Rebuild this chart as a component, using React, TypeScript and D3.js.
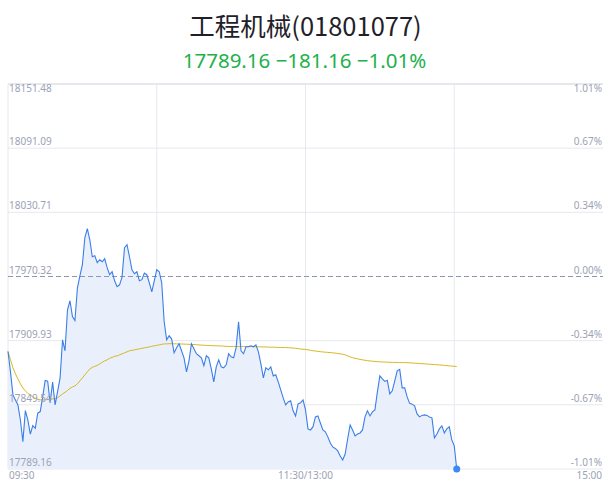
import React from "react";
import * as d3 from "d3";

const titleText = "工程机械(01801077)";
const quoteText = "17789.16 −181.16 −1.01%";

// one value per minute from 09:30
const prices = [
  17899.7, 17880.6, 17858.9, 17854.2, 17849.5, 17835.3, 17814.9, 17844.1, 17835.3, 17821.9,
  17830.0, 17827.5, 17841.7, 17843.2, 17857.3, 17872.4, 17871.8, 17851.6, 17870.9, 17849.5,
  17862.0, 17874.6, 17910.7, 17900.4, 17939.0, 17947.5, 17932.7, 17928.9, 17959.7, 17971.0,
  17981.4, 18006.8, 18015.3, 18004.9, 17988.9, 17989.8, 17983.3, 17986.1, 17984.2, 17987.0,
  17978.6, 17972.0, 17974.8, 17966.3, 17960.7, 17962.5, 17969.8, 17997.4, 18000.2, 17988.9,
  17976.7, 17972.9, 17974.8, 17966.3, 17967.3, 17973.6, 17972.0, 17964.4, 17955.9, 17966.3,
  17976.7, 17974.8, 17964.4, 17927.7, 17910.7, 17914.5, 17911.7, 17898.5, 17903.2, 17907.0,
  17900.4, 17893.8, 17880.6, 17891.0, 17907.0, 17902.3, 17897.6, 17895.7, 17893.8, 17886.3,
  17895.7, 17893.8, 17883.4, 17871.2, 17885.3, 17891.9, 17885.3, 17884.4, 17887.2, 17897.6,
  17894.7, 17893.8, 17903.2, 17927.7, 17900.4, 17897.6, 17904.2, 17904.2, 17905.1, 17904.2,
  17906.0, 17899.4, 17888.1, 17874.9, 17884.4, 17882.5, 17885.3, 17876.8, 17877.8, 17871.2,
  17863.6, 17856.1, 17849.5, 17852.3, 17853.3, 17843.9, 17839.1, 17850.4, 17851.4, 17854.2,
  17844.8, 17826.9, 17825.9, 17828.8, 17838.2, 17839.1, 17832.5, 17825.9, 17824.1, 17819.4,
  17813.7, 17809.9, 17808.5, 17806.2, 17801.4, 17797.6, 17803.3, 17817.4, 17830.6, 17825.9,
  17820.3, 17822.1, 17823.1, 17825.9, 17838.2, 17843.9, 17839.1, 17842.9, 17844.8, 17861.7,
  17876.8, 17874.0, 17871.6, 17872.6, 17859.8, 17862.7, 17872.1, 17881.5, 17882.9, 17865.5,
  17865.5, 17857.0, 17850.9, 17850.2, 17848.6, 17841.0, 17838.2, 17839.6, 17840.1, 17839.6,
  17838.2, 17837.3, 17818.4, 17822.1, 17826.9, 17829.7, 17823.1, 17826.9, 17828.8, 17816.5,
  17810.9, 17789.16,
];

const averages = [
  17899.7, 17891.9, 17884.4, 17878.7, 17874.0, 17869.3, 17865.5, 17862.7, 17860.3, 17858.9,
  17857.0, 17855.6, 17854.7, 17854.2, 17854.2, 17854.2, 17854.7, 17854.7, 17855.1, 17855.6,
  17856.1, 17858.0, 17859.8, 17861.3, 17863.1, 17865.0, 17866.4, 17867.4, 17869.3, 17872.1,
  17874.9, 17877.7, 17880.6, 17883.4, 17884.8, 17885.8, 17886.7, 17888.1, 17889.5, 17891.0,
  17891.9, 17893.3, 17894.2, 17895.2, 17895.6, 17896.6, 17897.5, 17898.5, 17899.4, 17900.4,
  17900.8, 17901.3, 17901.8, 17902.2, 17902.7, 17903.2, 17903.6, 17904.1, 17904.6, 17905.1,
  17905.5, 17906.0, 17906.5, 17906.9, 17906.9, 17907.1, 17907.1, 17907.0, 17906.9, 17906.8,
  17906.8, 17906.7, 17906.6, 17906.5, 17906.4, 17906.3, 17906.1, 17905.9, 17905.8, 17905.6,
  17905.5, 17905.4, 17905.2, 17905.2, 17905.1, 17905.0, 17904.9, 17904.8, 17904.6, 17904.5,
  17904.4, 17904.4, 17904.4, 17904.4, 17904.4, 17904.4, 17904.4, 17904.4, 17904.4, 17904.3,
  17904.2, 17904.2, 17904.1, 17904.0, 17904.0, 17903.9, 17903.8, 17903.8, 17903.7, 17903.6,
  17903.5, 17903.5, 17903.4, 17903.3, 17903.2, 17903.0, 17902.7, 17902.4, 17902.1, 17901.9,
  17901.7, 17901.3, 17900.9, 17900.5, 17900.2, 17899.9, 17899.6, 17899.3, 17899.1, 17898.9,
  17898.7, 17898.5, 17898.2, 17897.9, 17897.5, 17897.2, 17896.6, 17895.6, 17894.7, 17893.9,
  17893.3, 17892.8, 17892.3, 17891.9, 17891.5, 17891.1, 17890.8, 17890.6, 17890.4, 17890.2,
  17890.0, 17889.9, 17889.8, 17889.7, 17889.6, 17889.5, 17889.5, 17889.4, 17889.3, 17889.3,
  17889.3, 17889.2, 17889.1, 17888.9, 17888.7, 17888.6, 17888.4, 17888.3, 17888.1, 17888.0,
  17887.8, 17887.6, 17887.5, 17887.3, 17887.1, 17886.9, 17886.7, 17886.4, 17886.2, 17886.0,
  17885.8, 17885.6,
];

const priceTicks = [18151.48, 18091.09, 18030.71, 17970.32, 17909.93, 17849.54, 17789.16];
const pctTicks = ["1.01%", "0.67%", "0.34%", "0.00%", "-0.34%", "-0.67%", "-1.01%"];
const prevClose = 17970.32;
const timeTicks = [0, 60, 120, 180];
const timeLabels = ["09:30", "11:30/13:00", "15:00"];
const totalMinutes = 240;

const W = 611;
const H = 492;
const left = 8;
const right = 603;
const top = 84;
const bottom = 469;

const labelFont = "'Noto Sans', 'DejaVu Sans', sans-serif";

export default function App() {
  const x = d3.scaleLinear().domain([0, totalMinutes]).range([left, right]);
  const y = d3.scaleLinear().domain([priceTicks[6], priceTicks[0]]).range([bottom, top]);

  const line = d3.line<number>().x((_, i) => x(i)).y((d) => y(d));
  const area = d3.area<number>().x((_, i) => x(i)).y0(bottom).y1((d) => y(d));

  const last = prices.length - 1;

  return (
    <div style={{ position: "absolute", left: 0, top: 0 }}>
      <svg width={W} height={H} style={{ display: "block", background: "#fff" }}>
        <text x={305.5} y={35.5} textAnchor="middle" fontSize={25.5}
          fontFamily="'Noto Sans CJK SC', sans-serif" fill="#1f2129">
          {titleText}
        </text>
        <text x={304.5} y={67.5} textAnchor="middle" fontSize={20.5}
          fontFamily="'Noto Sans', 'Noto Sans CJK SC', sans-serif" fill="#22b14b">
          {quoteText}
        </text>

        {/* grid */}
        {priceTicks.map((p, i) =>
          p === prevClose ? null : (
            <line key={"h" + i} x1={left} x2={right} y1={y(p)} y2={y(p)}
              stroke="#e7e8ee" strokeWidth={i === 0 ? 2 : 1} />
          )
        )}
        {timeTicks.map((t) => (
          <line key={"v" + t} x1={x(t)} x2={x(t)} y1={top} y2={bottom}
            stroke="#e7e8ee" strokeWidth={1} />
        ))}

        <path d={area(prices) || ""} fill="#e9f0fc" />
        <line x1={left} x2={right} y1={y(prevClose)} y2={y(prevClose)}
          stroke="#8d97b5" strokeWidth={1} strokeDasharray="5,3" />
        <path d={line(averages) || ""} fill="none" stroke="#d6b820" strokeWidth={1} />
        <path d={line(prices) || ""} fill="none" stroke="#3b7ee8" strokeWidth={1.1} />
        <circle cx={x(last)} cy={y(prices[last])} r={3.5} fill="#3a8cf2" />

        {/* axis labels */}
        {priceTicks.map((p, i) => (
          <text key={"l" + i} x={left + 1} y={i === 0 ? y(p) + 8 : y(p) - 3}
            fontSize={10} fontFamily={labelFont} fill="#9ca2b6">
            {p.toFixed(2)}
          </text>
        ))}
        {pctTicks.map((t, i) => (
          <text key={"r" + i} x={right - 1} y={i === 0 ? y(priceTicks[i]) + 8 : y(priceTicks[i]) - 3}
            textAnchor="end" fontSize={10} fontFamily={labelFont} fill="#9ca2b6">
            {t}
          </text>
        ))}
        <text x={left + 1} y={479} fontSize={10} fontFamily={labelFont} fill="#9ca2b6">
          {timeLabels[0]}
        </text>
        <text x={x(120)} y={479} textAnchor="middle" fontSize={10} fontFamily={labelFont} fill="#9ca2b6">
          {timeLabels[1]}
        </text>
        <text x={right - 1} y={479} textAnchor="end" fontSize={10} fontFamily={labelFont} fill="#9ca2b6">
          {timeLabels[2]}
        </text>
      </svg>
    </div>
  );
}
